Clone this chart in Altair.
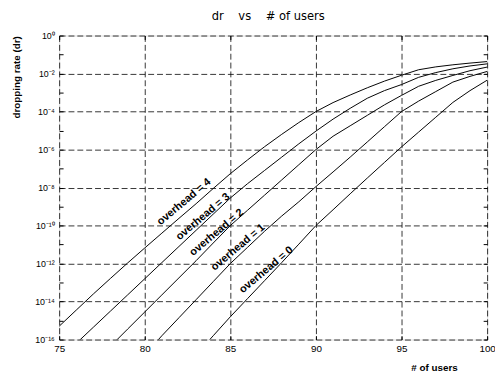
import altair as alt
import pandas as pd

# ---- data (dropping rate given as log10 exponents) ----
users = list(range(75, 101))
curve_names = ["overhead = 4", "overhead = 3", "overhead = 2", "overhead = 1", "overhead = 0"]

exp_oh4 = [-15.3, -14.45, -13.6, -12.78, -11.97, -11.18, -10.4, -9.62, -8.85, -8.05,
           -7.27, -6.55, -5.85, -5.2, -4.58, -4.0, -3.53, -3.13, -2.75, -2.40,
           -2.09, -1.80, -1.65, -1.54, -1.45, -1.37]
exp_oh3 = [-17.05, -16.2, -15.35, -14.5, -13.65, -12.8, -11.95, -11.1, -10.25, -9.4,
           -8.55, -7.8, -7.1, -6.4, -5.7, -5.03, -4.4, -3.83, -3.3, -2.9,
           -2.58, -2.2, -1.95, -1.75, -1.6, -1.49]
exp_oh2 = [None, None, -17.3, -16.35, -15.45, -14.55, -13.65, -12.75, -11.85, -10.92,
           -10.0, -9.2, -8.4, -7.6, -6.8, -6.0, -5.3, -4.75, -4.2, -3.65,
           -3.15, -2.67, -2.36, -2.1, -1.85, -1.66]
exp_oh1 = [None, None, None, None, -17.8, -16.8, -15.8, -14.85, -13.9, -12.95,
           -12.0, -11.15, -10.3, -9.5, -8.75, -7.95, -7.18, -6.4, -5.6, -4.8,
           -4.0, -3.45, -2.95, -2.45, -2.15, -1.89]
exp_oh0 = [None, None, None, None, None, None, None, None, -16.8, -15.8,
           -14.8, -13.85, -12.9, -11.95, -10.98, -10.0, -9.17, -8.33, -7.5, -6.68,
           -5.86, -5.08, -4.3, -3.52, -2.9, -2.35]

# curve labels (anchor in data coordinates)
label_users = [82.3, 83.4, 84.2, 85.45, 87.1]
label_exps = [-8.76, -9.54, -10.37, -11.15, -12.34]

x_ticks = [75, 80, 85, 90, 95, 100]
y_label_exps = [0, -2, -4, -6, -8, -10, -12, -14, -16]
y_tick_exps = list(range(0, -17, -1))

# ---- tables ----
rows = []
for name, exps in zip(curve_names, [exp_oh4, exp_oh3, exp_oh2, exp_oh1, exp_oh0]):
    for u, e in zip(users, exps):
        if e is not None:
            rows.append({"curve": name, "users": u, "dr": 10.0 ** e})
df = pd.DataFrame(rows)
labels_df = pd.DataFrame({"users": label_users,
                          "dr": [10.0 ** e for e in label_exps],
                          "text": curve_names})

W, H = 435, 309
FONT = "Liberation Sans"

sup = str.maketrans("0123456789-", "⁰¹²³⁴⁵⁶⁷⁸⁹⁻")
lab_expr = "".join(
    f"round(log(datum.value)/LN10) == {e} ? '10{str(e).translate(sup)}' : " for e in y_label_exps
) + "''"

xs = alt.Scale(domain=[75, 100], nice=False, zero=False)
ys = alt.Scale(type="log", domain=[1e-16, 1], nice=False)

main_x_axis = alt.Axis(values=x_ticks, grid=True, gridColor="#000", gridDash=[6, 3],
                       gridWidth=0.8, ticks=False, domain=False, labelPadding=4,
                       labelFont=FONT, labelFontSize=10, labelColor="#000",
                       title="# of users", titleFont=FONT, titleFontSize=10,
                       titleFontWeight="bold", titleColor="#000",
                       titleX=381, titleY=28, titleAlign="center", titleBaseline="middle",
                       labelFlush=False)
main_y_axis = alt.Axis(values=[10.0 ** e for e in y_label_exps], grid=True, gridColor="#000",
                       gridDash=[6, 3], gridWidth=0.8, ticks=False, domain=False,
                       labelPadding=5, labelExpr=lab_expr, labelFont=FONT, labelFontSize=9,
                       labelColor="#000", labelFlush=False,
                       title="dropping rate (dr)", titleFont=FONT, titleFontSize=10,
                       titleFontWeight="bold", titleColor="#000", titleAngle=270,
                       titleX=-43, titleY=42, titleAlign="center", titleBaseline="middle")

lines = alt.Chart(df).mark_line(color="black", strokeWidth=1, clip=True).encode(
    x=alt.X("users:Q", scale=xs, axis=main_x_axis),
    y=alt.Y("dr:Q", scale=ys, axis=main_y_axis),
    detail="curve:N",
)


def tick_axis(orient, offset, values):
    return alt.Axis(orient=orient, offset=offset, values=values, labels=False, domain=False,
                    grid=False, ticks=True, tickSize=4, tickColor="#000", tickWidth=1,
                    title="")


ticks_a = alt.Chart(df).mark_line(strokeOpacity=0).encode(
    x=alt.X("users:Q", scale=xs, axis=tick_axis("top", -H, x_ticks)),
    y=alt.Y("dr:Q", scale=ys, axis=tick_axis("right", -W, [10.0 ** e for e in y_tick_exps])),
    detail="curve:N",
)
ticks_b = alt.Chart(df).mark_line(strokeOpacity=0).encode(
    x=alt.X("users:Q", scale=xs, axis=tick_axis("bottom", -H, x_ticks)),
    y=alt.Y("dr:Q", scale=ys, axis=tick_axis("left", -W, [10.0 ** e for e in y_tick_exps])),
    detail="curve:N",
)

texts = alt.Chart(labels_df).mark_text(angle=320, font=FONT, fontSize=11, fontWeight="bold",
                                       color="black", align="center", baseline="middle").encode(
    x=alt.X("users:Q", scale=xs, axis=None),
    y=alt.Y("dr:Q", scale=ys, axis=None),
    text="text:N",
)

chart = alt.layer(lines, ticks_a, ticks_b, texts).resolve_axis(
    x="independent", y="independent"
).properties(
    width=W, height=H,
    title=alt.TitleParams("dr\u00a0\u00a0\u00a0\u00a0vs\u00a0\u00a0\u00a0\u00a0# of users",
                          font="Liberation Sans Narrow, DejaVu Sans Condensed, Liberation Sans",
                          fontSize=13, fontWeight="normal", color="#000", anchor="middle",
                          dx=-5, offset=9),
    autosize=alt.AutoSizeParams(type="none"),
    padding={"left": 52, "top": 25, "right": 8, "bottom": 30},
).configure_view(stroke="black", strokeWidth=1.6).configure(background="white")

chart.save("out.html", embed_options={"renderer": "svg", "actions": False})
